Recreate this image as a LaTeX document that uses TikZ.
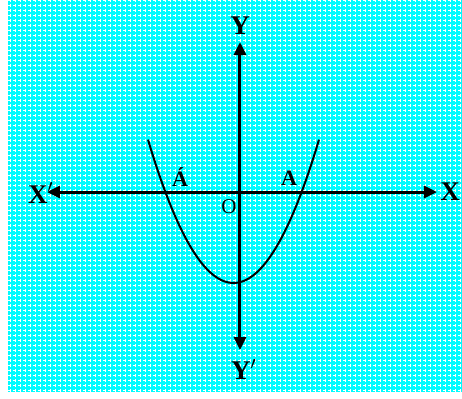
\documentclass[tikz,border=0pt]{standalone}
\usepackage{fontspec}
\setmainfont{Liberation Serif}
\definecolor{gCyan}{HTML}{00FCFF}
\usetikzlibrary{arrows.meta, positioning}
\tikzset{
  axislbl/.style={inner sep=0pt, font=\fontsize{13.5}{14}\selectfont\bfseries},
  ptlbl/.style={inner sep=0pt, font=\fontsize{11}{11}\selectfont\bfseries},
  axisline/.style={line width=1.5pt, -{Triangle[length=6.5pt, width=6pt]}}
}
\begin{document}
\begin{tikzpicture}[x=0.5pt, y=-0.5pt]
\useasboundingbox (0,0) rectangle (462,398);
\fill[gCyan] (8,0) rectangle (462,392);
\draw[white, line width=0.45pt, dash pattern=on 1.5pt off 1pt, step=2.5pt] (8,0) grid (462,392);
\coordinate (O) at (240,192);
\coordinate (xneg) at (47,192);
\coordinate (xpos) at (437,192);
\coordinate (ypos) at (240,42);
\coordinate (yneg) at (240,350);
\node[axislbl, anchor=east] (lblxneg) at (54,193) {X$^{\prime}$};
\node[axislbl, right=1.5pt of xpos] (lblxpos) {X};
\node[axislbl, above=3.5pt of ypos] (lblypos) {Y};
\node[axislbl, anchor=north, xshift=2pt, below=4.5pt of yneg] (lblyneg) {Y$^{\prime}$};
\draw[axisline] (O) -- (xneg);
\draw[axisline] (O) -- (xpos);
\draw[axisline] (O) -- (ypos);
\draw[axisline] (O) -- (yneg);
\draw[line width=1pt] plot[domain=148:319, smooth, samples=50] (\x, {283-0.0196*(\x-233.5)^2});
\node[ptlbl] (lblA) at (289,178) {A};
\node[ptlbl] (lblAp) at (180,177) {\'A};
\node[inner sep=0pt, font=\fontsize{10.5}{10}\selectfont] (lblO) at (229,207) {O};
\end{tikzpicture}
\end{document}
